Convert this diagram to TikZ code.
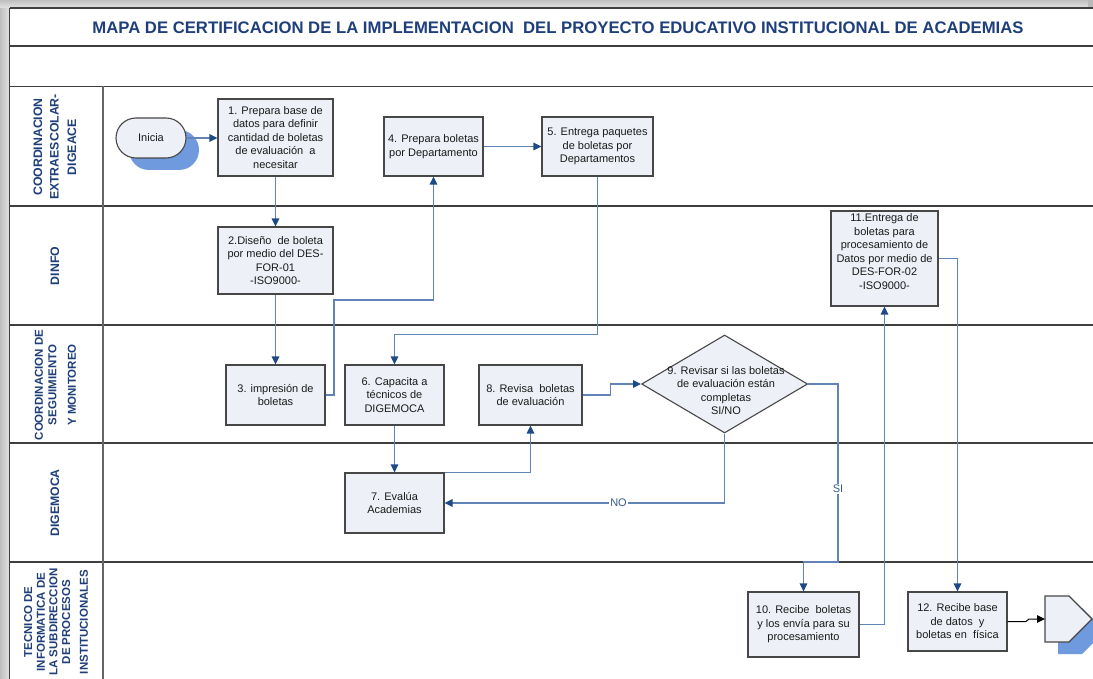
\documentclass[tikz,border=0pt]{standalone}
\usepackage{fontspec}
\setmainfont{Liberation Sans}
\usetikzlibrary{arrows.meta,shapes.geometric,shapes.misc,shadows}

\definecolor{framec}{HTML}{3E3E3E}
\definecolor{boxfill}{HTML}{EDF1F7}
\definecolor{boxdraw}{HTML}{474747}
\definecolor{linec}{HTML}{6283B5}
\definecolor{tipc}{HTML}{1F4A88}
\definecolor{shadowc}{HTML}{6F9ADE}
\definecolor{titlec}{HTML}{1F3F7C}
\definecolor{lanec}{HTML}{1F3F7A}
\definecolor{txtc}{HTML}{1A1A1A}
\definecolor{flagc}{HTML}{3A5A8C}

\begin{document}
\begin{tikzpicture}[x=1pt,y=-1pt,
  boxfont/.style={font=\fontsize{11}{13.5}\selectfont},
  proc/.style={boxfont, rectangle, draw=boxdraw, line width=1.1pt, fill=boxfill,
    text=txtc, align=center, inner sep=2pt},
  term/.style={boxfont, rounded rectangle, draw=boxdraw, line width=1.1pt, fill=boxfill,
    text=txtc, align=center, inner sep=0pt,
    drop shadow={shadow xshift=13pt, shadow yshift=-12pt, fill=shadowc, opacity=1}},
  decision/.style={diamond, draw=boxdraw, line width=1.1pt, fill=boxfill, inner sep=0pt,
    minimum width=166pt, minimum height=98pt},
  dtext/.style={boxfont, text=txtc, align=center, inner sep=0pt},
  lane/.style={font=\fontsize{12.3}{16.5}\selectfont\bfseries, text=lanec, rotate=90,
    align=center, inner sep=0pt},
  rule/.style={draw=framec, line width=1.4pt},
  flow/.style={draw=linec, line width=1.2pt, -{Triangle[length=8pt,width=7.5pt,color=tipc]}},
  flag/.style={boxfont, text=flagc, fill=white, inner sep=1pt}
]
\useasboundingbox (0,0) rectangle (1093,679);
\fill[white] (0,0) rectangle (1093,679);

% window edge shading
\shade[left color=gray!50, right color=gray!22] (0,0) rectangle (9.5,679);
\shade[top color=gray!50, bottom color=gray!22] (0,0) rectangle (1093,8);
\fill[gray!55] (1088,0) rectangle (1093,8);

% frame and swimlanes
\draw[rule] (9.5,8) -- (1093,8);
\draw[rule] (9.5,46) -- (1093,46);
\draw[rule] (9.5,86.5) -- (1093,86.5);
\draw[rule] (9.5,206) -- (1093,206);
\draw[rule] (9.5,325) -- (1093,325);
\draw[rule] (9.5,443) -- (1093,443);
\draw[rule] (9.5,562) -- (1093,562);
\draw[rule] (9.5,8) -- (9.5,679);
\draw[draw=framec!80, line width=1.2pt] (103,86.5) -- (103,679);

% title
\node[font=\fontsize{16.7}{20}\selectfont\bfseries, text=titlec, inner sep=0pt]
  (title) at (558,28) {MAPA DE CERTIFICACION DE LA IMPLEMENTACION\ \ DEL PROYECTO EDUCATIVO INSTITUCIONAL DE ACADEMIAS};

% lane names
\node[lane] (lane1) at (55,147) {COORDINACION\\EXTRAESCOLAR-\\[1pt]DIGEACE};
\node[lane] (lane2) at (55,266) {DINFO};
\node[lane, font=\fontsize{11.5}{13.5}\selectfont\bfseries] (lane3) at (55.5,385) {COORDINACION DE\\SEGUIMIENTO\\[6pt]Y MONITOREO};
\node[lane] (lane4) at (55,503) {DIGEMOCA};
\node[lane, font=\fontsize{11.5}{12.7}\selectfont\bfseries] (lane5) at (56,622) {TECNICO DE\\INFORMATICA DE\\LA SUBDIRECCION\\DE PROCESOS\\[5pt]INSTITUCIONALES};

% steps
\node[term, minimum width=70pt, minimum height=40pt] (ini) at (151,138) {Inicia};
\node[proc, minimum width=115pt, minimum height=77pt] (n1) at (275.5,137.5)
  {1. Prepara base de\\datos para definir\\cantidad de boletas\\de evaluación\ \ a\\necesitar};
\node[proc, minimum width=115pt, minimum height=67pt] (n2) at (275.5,260.5)
  {2.Diseño\ \ de boleta\\por medio del DES-\\FOR-01\\-ISO9000-};
\node[proc, minimum width=99pt, minimum height=60pt] (n3) at (275.5,395)
  {3. impresión de\\boletas};
\node[proc, minimum width=99pt, minimum height=59pt] (n4) at (433.5,146.5)
  {4. Prepara boletas\\por Departamento};
\node[proc, minimum width=111pt, minimum height=59pt] (n5) at (597.5,146.5)
  {5. Entrega paquetes\\de boletas por\\Departamentos};
\node[proc, minimum width=99pt, minimum height=60pt] (n6) at (394.5,395)
  {6. Capacita a\\técnicos de\\DIGEMOCA};
\node[proc, minimum width=99pt, minimum height=60pt] (n7) at (394.5,503)
  {7. Evalúa\\Academias};
\node[proc, minimum width=103pt, minimum height=60pt] (n8) at (530.5,395)
  {8. Revisa\ \ boletas\\de evaluación};
\node[decision] (d9) at (724.6,384) {};
\node[dtext] (d9t) at (726,390.5)
  {9. Revisar si las boletas\\de evaluación están\\completas\\SI/NO};
\node[proc, minimum width=111pt, minimum height=65pt] (n10) at (803.5,624.5)
  {10. Recibe\ \ boletas\\y los envía para su\\procesamiento};
\node[proc, minimum width=107pt, minimum height=95pt] (n11) at (884.5,258.5)
  {11.Entrega de\\boletas para\\procesamiento de\\Datos por medio de\\DES-FOR-02\\-ISO9000-\\\mbox{}};
\node[proc, minimum width=99pt, minimum height=59pt] (n12) at (957.5,621.5)
  {12. Recibe base\\de datos\ \ y\\boletas en\ \ física};

% off-page connector
\fill[shadowc] (1058,608) -- (1082,608) -- (1105,631) -- (1082,654) -- (1058,654) -- cycle;
\filldraw[fill=boxfill, draw=boxdraw, line width=1.1pt]
  (1045,596) -- (1069,596) -- (1092,619) -- (1069,642) -- (1045,642) -- cycle;
\coordinate (offc) at (1045,619);

% flow
\draw[flow] (ini.east) -- (n1.west |- ini.east);
\draw[flow] (n1.south) -- (n2.north);
\draw[flow] (n2.south) -- (n3.north);
\draw[flow] (n3.east) -| (334,300) -| (n4.south);
\draw[flow] (n4.east) -- (n5.west);
\draw[flow] (n5.south) -- ++(0,158) -| (n6.north);
\draw[flow] (n6.south) -- (n7.north);
\draw[flow] (n7.north east) -| (n8.south);
\draw[flow] (n8.east) -- ++(28,0) |- (d9.west);
\draw[flow] (d9.south) |- (n7.east);
\node[flag] (no) at (618.5,503) {NO};
\draw[flow] (d9.east) -| (838,562) -| (n10.north);
\node[flag] (si) at (838,489) {SI};
\draw[flow] (n10.east) -| (n11.south);
\draw[flow] (n11.east) -| (n12.north);
\draw[black, line width=1pt, -{Triangle[length=8pt,width=7.5pt]}]
  (n12.east) -- (1026,621.5) -- (1029,619) -- (offc);
\end{tikzpicture}
\end{document}
